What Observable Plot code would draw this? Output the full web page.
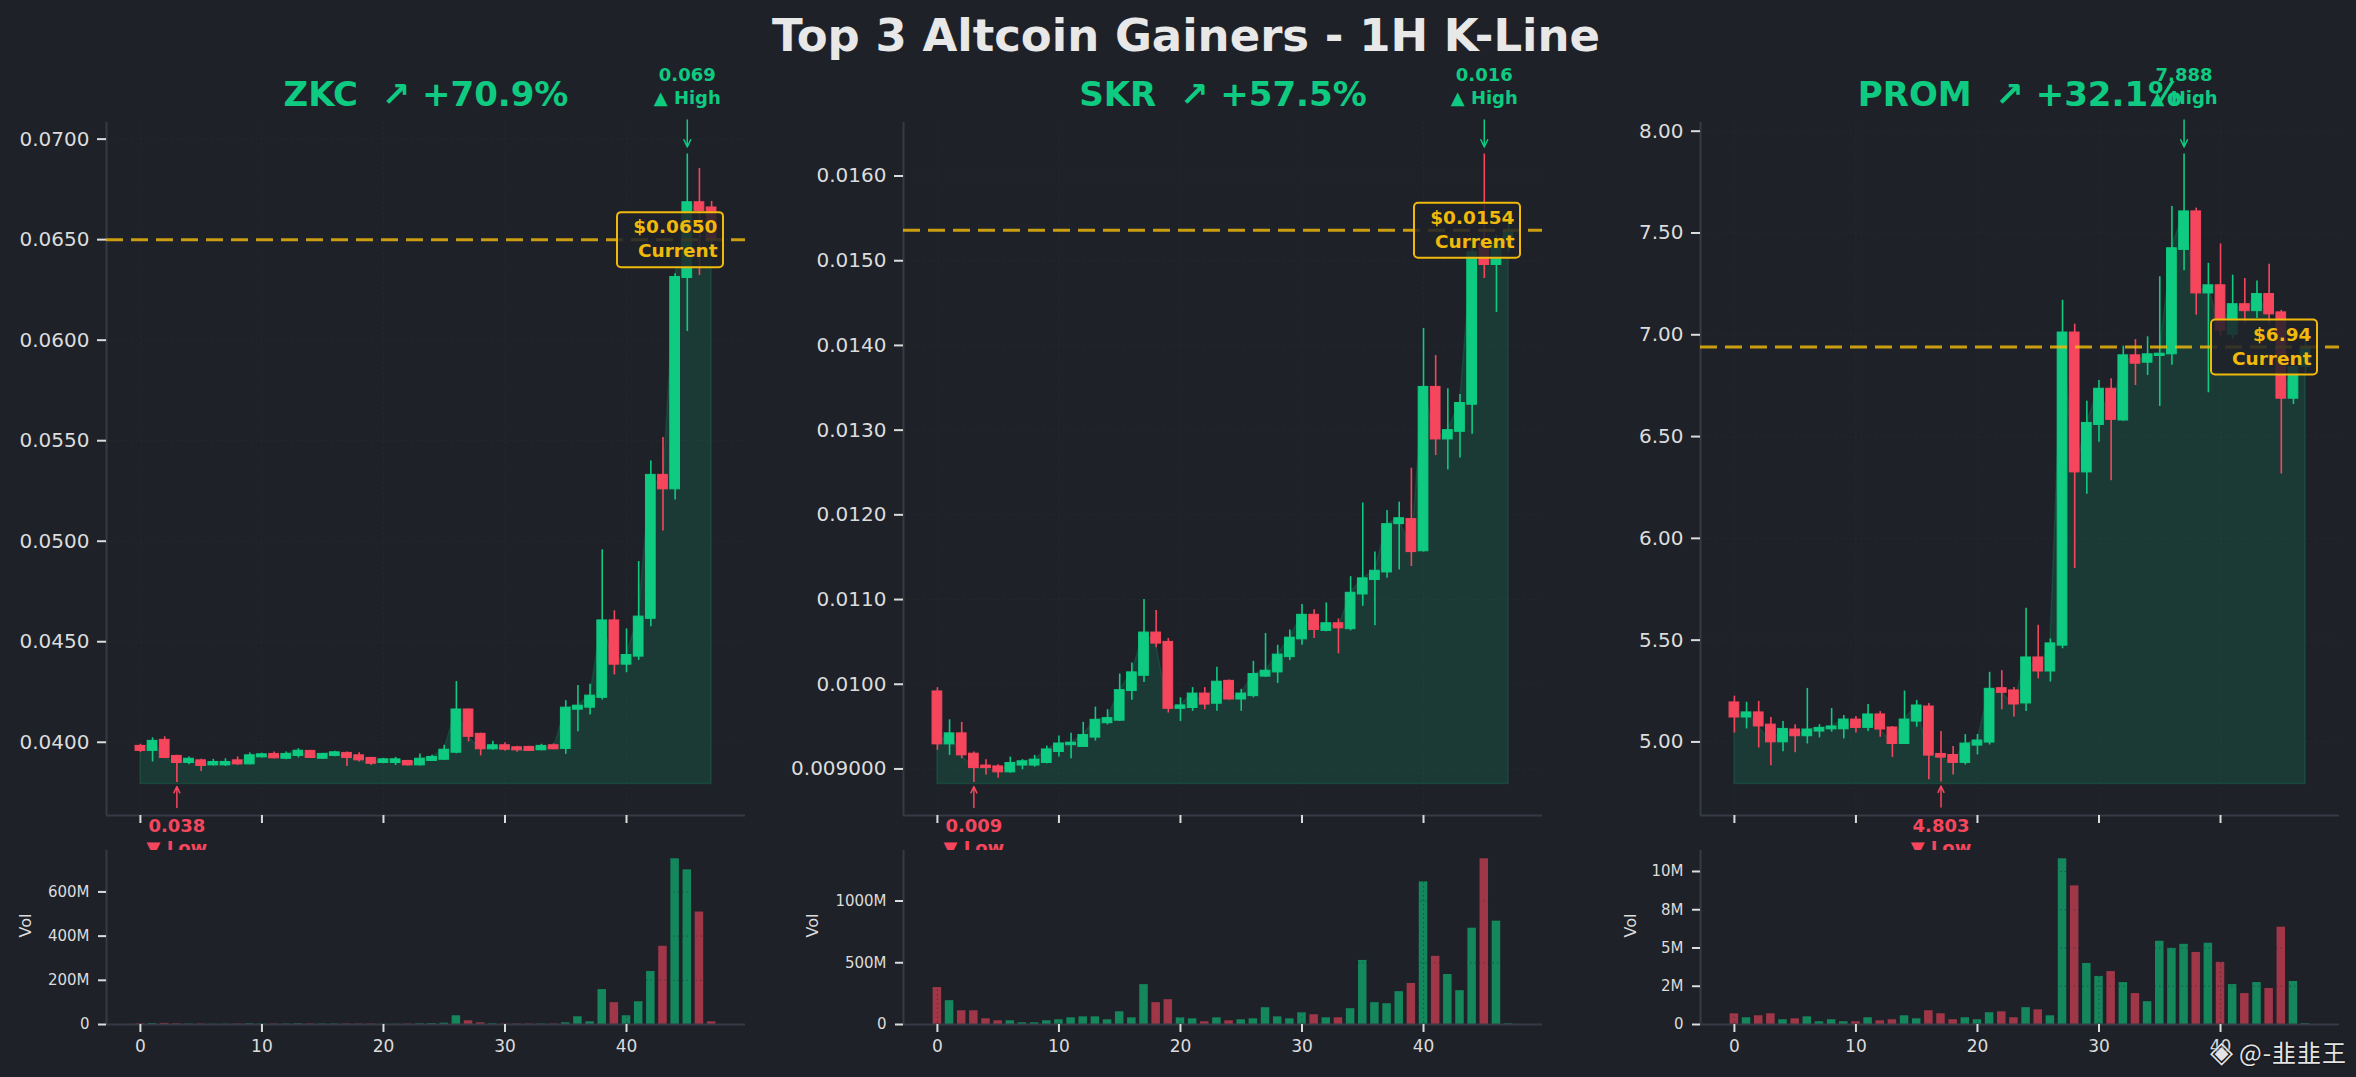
<!DOCTYPE html>
<html>
<head>
<meta charset="utf-8">
<script src="https://cdn.jsdelivr.net/npm/d3@7"></script>
<script src="https://cdn.jsdelivr.net/npm/@observablehq/plot@0.6"></script>
<style>
html, body { margin: 0; padding: 0; background: #1e2128; width: 2356px; height: 1077px; overflow: hidden; font-family: "DejaVu Sans", sans-serif; }
#root { position: relative; width: 2356px; height: 1077px; }
.pane { position: absolute; }
.pane svg { display: block; max-width: none; overflow: hidden; }
#title { position: absolute; left: 8px; top: 8px; width: 2356px; text-align: center; font-size: 45px; line-height: 56px; font-weight: bold; color: #e8e8e8; }
#wm { position: absolute; right: 9px; top: 1034px; height: 36px; display: flex; align-items: center; gap: 6px; color: #e4e4e4; text-shadow: 0 0 2px #000; white-space: nowrap; }
#wmLogo { font-family: "DejaVu Sans", sans-serif; font-size: 30px; line-height: 36px; }
#wmText { font-family: "Noto Sans CJK SC", "DejaVu Sans", sans-serif; font-size: 24px; line-height: 36px; letter-spacing: 1px; }
</style>
</head>
<body>
<div id="root">
  <div id="title">Top 3 Altcoin Gainers - 1H K-Line</div>
  <div id="wm"><span id="wmLogo">◈</span><span id="wmText">@-韭韭王</span></div>
</div>
<script>
// ---------------- data ----------------
const symbols = ["ZKC", "SKR", "PROM"];
const pctLabels = ["+70.9%", "+57.5%", "+32.1%"];
const xTicks = [0, 10, 20, 30, 40];

const zkcOpen  = [0.03982,0.03957,0.04012,0.03932,0.03897,0.03910,0.03885,0.03885,0.03910,0.03890,0.03925,0.03942,0.03918,0.03932,0.03957,0.03918,0.03932,0.03947,0.03935,0.03922,0.03897,0.03897,0.03907,0.03885,0.03907,0.03913,0.03948,0.04163,0.04042,0.03965,0.03985,0.03975,0.03977,0.03960,0.03985,0.03967,0.04162,0.04172,0.04221,0.04606,0.04386,0.04426,0.04614,0.05330,0.05258,0.06309,0.06686,0.06660];
const zkcHigh  = [0.03990,0.04022,0.04027,0.03935,0.03927,0.03915,0.03915,0.03918,0.03927,0.03947,0.03945,0.03952,0.03952,0.03968,0.03960,0.03945,0.03955,0.03952,0.03948,0.03925,0.03920,0.03925,0.03910,0.03942,0.03935,0.03985,0.04302,0.04165,0.04045,0.04005,0.03997,0.03980,0.03980,0.03990,0.03992,0.04207,0.04282,0.04288,0.04957,0.04654,0.04564,0.04899,0.05399,0.05516,0.06330,0.06926,0.06854,0.06690];
const zkcLow   = [0.03950,0.03902,0.03920,0.03800,0.03888,0.03855,0.03882,0.03880,0.03885,0.03888,0.03922,0.03918,0.03913,0.03922,0.03920,0.03915,0.03928,0.03880,0.03902,0.03885,0.03893,0.03885,0.03882,0.03882,0.03905,0.03910,0.03943,0.04002,0.03932,0.03960,0.03955,0.03950,0.03955,0.03958,0.03963,0.03940,0.04052,0.04135,0.04210,0.04335,0.04346,0.04407,0.04574,0.05051,0.05205,0.06043,0.06322,0.06450];
const zkcClose = [0.03957,0.04007,0.03922,0.03897,0.03918,0.03882,0.03902,0.03902,0.03890,0.03935,0.03940,0.03920,0.03942,0.03958,0.03922,0.03942,0.03950,0.03922,0.03910,0.03893,0.03915,0.03915,0.03885,0.03918,0.03927,0.03963,0.04163,0.04027,0.03965,0.03985,0.03963,0.03960,0.03957,0.03982,0.03965,0.04172,0.04182,0.04232,0.04606,0.04386,0.04434,0.04625,0.05330,0.05258,0.06314,0.06686,0.06641,0.06500];
const zkcVol   = [3,4,5,3,2,2,1,1,2,3,2,2,2,3,2,2,2,2,2,2,1,1,2,3,4,6,39.5,16.7,7.6,3,2,2,2,2,2,7.6,35,12,158,98.7,39.5,103,240,354,750,700,509,12];

const skrOpen  = [0.009915,0.00929,0.00942,0.00918,0.00904,0.00903,0.00896,0.00904,0.00904,0.00907,0.00920,0.00928,0.00926,0.00937,0.00954,0.00957,0.00992,0.01010,0.01061,0.01050,0.00971,0.00972,0.00989,0.00977,0.01004,0.00982,0.00986,0.01009,0.01014,0.01032,0.01053,0.01082,0.01063,0.01072,0.01065,0.01106,0.01123,0.01132,0.01189,0.01195,0.01157,0.01351,0.01289,0.01298,0.01330,0.01520,0.01495,0.01520];
const skrHigh  = [0.00996,0.00958,0.00955,0.00920,0.00911,0.00905,0.00914,0.00911,0.00916,0.00927,0.00939,0.00942,0.00955,0.00973,0.00970,0.01012,0.01025,0.01100,0.01087,0.01054,0.00984,0.00996,0.00996,0.01020,0.01005,0.00994,0.01027,0.01060,0.01046,0.01064,0.01094,0.01088,0.01096,0.01077,0.01127,0.01214,0.01156,0.01205,0.01215,0.01255,0.01420,0.01388,0.01349,0.01342,0.01515,0.01626,0.01530,0.01545];
const skrLow   = [0.00922,0.00916,0.00912,0.00884,0.00893,0.00889,0.00895,0.00899,0.00902,0.00906,0.00914,0.00912,0.00926,0.00933,0.00952,0.00956,0.00981,0.01002,0.01043,0.00966,0.00956,0.00968,0.00970,0.00968,0.00981,0.00968,0.00984,0.01008,0.01001,0.01028,0.01046,0.01054,0.01062,0.01036,0.01063,0.01092,0.01069,0.01125,0.01135,0.01139,0.01156,0.01270,0.01253,0.01267,0.01295,0.01479,0.01439,0.01510];
const skrClose = [0.00929,0.00942,0.00916,0.00901,0.00901,0.00896,0.00907,0.00909,0.00911,0.00923,0.00930,0.00931,0.00940,0.00958,0.00960,0.00993,0.01014,0.01061,0.01048,0.00971,0.00975,0.00989,0.00976,0.01003,0.00982,0.00989,0.01012,0.01016,0.01035,0.01055,0.01082,0.01064,0.01072,0.01066,0.01108,0.01125,0.01134,0.01189,0.01196,0.01156,0.01351,0.01289,0.01300,0.01332,0.01510,0.01495,0.01520,0.01536];
const skrVol   = [299,193,111,111,46,30,30,14,14,30,38,54,62,62,38,103,54,323,177,201,54,46,22,54,30,38,46,136,62,46,95,79,54,54,128,519,177,168,266,332,1155,552,405,274,780,1342,837,5];

const promOpen  = [5.194,5.120,5.145,5.085,4.998,5.061,5.028,5.051,5.062,5.062,5.110,5.069,5.135,5.071,4.990,5.100,5.174,4.941,4.936,4.897,4.982,4.997,5.264,5.253,5.189,5.415,5.346,5.473,7.011,6.324,6.557,6.735,6.579,6.899,6.863,6.896,6.904,7.417,7.606,7.203,7.243,7.000,7.150,7.116,7.200,7.110,6.686,6.842];
const promHigh  = [5.225,5.195,5.199,5.120,5.100,5.085,5.263,5.085,5.164,5.130,5.125,5.184,5.149,5.075,5.250,5.204,5.189,5.051,4.977,5.036,5.036,5.342,5.350,5.268,5.657,5.573,5.506,7.170,7.052,6.673,6.776,6.784,6.944,6.976,6.990,7.285,7.630,7.888,7.622,7.351,7.446,7.293,7.277,7.264,7.346,7.120,6.900,6.970];
const promLow   = [5.044,5.064,4.970,4.883,4.952,4.947,4.990,5.020,5.048,5.015,5.044,5.051,5.023,4.924,4.987,5.072,4.814,4.803,4.837,4.887,4.936,4.985,5.158,5.123,5.149,5.310,5.294,5.458,5.852,6.217,6.472,6.283,6.575,6.751,6.800,6.648,6.850,7.315,7.096,6.715,6.990,6.980,7.050,7.080,7.050,6.316,6.658,6.810];
const promClose = [5.120,5.145,5.076,4.998,5.064,5.028,5.061,5.069,5.076,5.110,5.069,5.135,5.061,4.990,5.110,5.179,4.933,4.923,4.897,4.992,5.007,5.261,5.241,5.184,5.415,5.346,5.484,7.011,6.324,6.567,6.735,6.582,6.899,6.858,6.904,6.907,7.425,7.606,7.203,7.243,7.020,7.150,7.116,7.200,7.100,6.686,6.842,6.940];
const promVol   = [0.70,0.44,0.57,0.70,0.31,0.37,0.50,0.18,0.31,0.18,0.18,0.44,0.24,0.31,0.57,0.37,0.90,0.70,0.31,0.44,0.31,0.77,0.83,0.44,1.10,0.96,0.57,10.83,9.06,3.99,3.14,3.46,2.74,2.02,1.49,5.44,4.98,5.24,4.71,5.31,4.06,2.61,2.02,2.74,2.35,6.36,2.81,0.05];

const zkcTicks  = [0.0400,0.0450,0.0500,0.0550,0.0600,0.0650,0.0700];
const skrTicks  = [0.009,0.010,0.011,0.012,0.013,0.014,0.015,0.016];
const promTicks = [5.00,5.50,6.00,6.50,7.00,7.50,8.00];
const zkcVolTicks  = [0,200,400,600];   // millions
const skrVolTicks  = [0,500,1000];
const promVolTicks = [0,2.5,5,7.5,10];

// ---------------- style ----------------
const GREEN = "#0ecb81", RED = "#f6465d", GOLD = "#f0b90b", BG = "#1e2128";
const SPINE = "#363a44", TICK = "#dcdcdc", FONT = "DejaVu Sans";
const X_DOMAIN = [-2.79, 49.79];
const FRAME_LEFTS = [106, 903, 1700], SVG_LEFTS = [0, 770, 1570], FRAME_W = 639;
const VOL_LABEL_DX = [-81, -91, -70];

function roundHalfEven(x) {
  const f = Math.floor(x), r = x - f;
  if (Math.abs(r - 0.5) < 1e-9) return f % 2 === 0 ? f : f + 1;
  return Math.round(x);
}
const fmtVol = v => v === 0 ? "0" : `${roundHalfEven(v)}M`;
const fmt3 = v => v.toFixed(3);
const fmtCur = v => v < 1 ? `$${v.toFixed(4)}` : `$${v.toFixed(2)}`;

const coins = [
  {open: zkcOpen, high: zkcHigh, low: zkcLow, close: zkcClose, vol: zkcVol, ticks: zkcTicks, fmt: v => v.toFixed(4), vticks: zkcVolTicks},
  {open: skrOpen, high: skrHigh, low: skrLow, close: skrClose, vol: skrVol, ticks: skrTicks, fmt: v => v >= 0.00999 ? v.toFixed(4) : v.toFixed(6), vticks: skrVolTicks},
  {open: promOpen, high: promHigh, low: promLow, close: promClose, vol: promVol, ticks: promTicks, fmt: v => v.toFixed(2), vticks: promVolTicks}
];

const root = document.getElementById("root");

coins.forEach((d, k) => {
  const n = d.open.length;
  const rows = d3.range(n).map(i => ({i, o: d.open[i], h: d.high[i], l: d.low[i], c: d.close[i], v: d.vol[i]}));
  rows.forEach(r => r.up = r.c >= r.o);
  const up = rows.filter(r => r.up), dn = rows.filter(r => !r.up);
  const minLow = d3.min(rows, r => r.l), maxHigh = d3.max(rows, r => r.h);
  const lowRow = rows.find(r => r.l === minLow), highRow = rows.find(r => r.h === maxHigh);
  const base = minLow * 0.998;
  const span = maxHigh - base;
  const yDom = [base - 0.05 * span, maxHigh + 0.05 * span];
  const last = rows[n - 1].c;

  const svgLeft = SVG_LEFTS[k];
  const mL = FRAME_LEFTS[k] - svgLeft;
  const svgW = (k < 2 ? SVG_LEFTS[k + 1] : 2356) - svgLeft;
  const mR = svgW - mL - FRAME_W;
  const PH = 850, mT = 122, mB = 35, fH = PH - mT - mB;
  const uy = (yDom[1] - yDom[0]) / fH;            // data units per pixel (y)
  const ux = (X_DOMAIN[1] - X_DOMAIN[0]) / FRAME_W; // data units per pixel (x)

  const price = Plot.plot({
    width: svgW, height: PH,
    marginLeft: mL, marginRight: mR, marginTop: mT, marginBottom: mB,
    x: {domain: X_DOMAIN, axis: null},
    y: {domain: yDom, axis: null},
    style: {background: "transparent", fontFamily: FONT, overflow: "hidden"},
    marks: [
      Plot.gridY({ticks: d.ticks, stroke: "#ffffff", strokeOpacity: 0.035, strokeDasharray: "2,3"}),
      Plot.gridX({ticks: xTicks, stroke: "#ffffff", strokeOpacity: 0.035, strokeDasharray: "2,3"}),
      Plot.areaY(rows, {x: "i", y1: () => base, y2: "c", fill: GREEN, fillOpacity: 0.15, stroke: GREEN, strokeOpacity: 0.16, strokeWidth: 1.5}),
      Plot.ruleX(up, {x: "i", y1: "l", y2: "h", stroke: GREEN, strokeWidth: 1.6}),
      Plot.ruleX(dn, {x: "i", y1: "l", y2: "h", stroke: RED, strokeWidth: 1.6}),
      Plot.rect(up, {x1: r => r.i - 0.4, x2: r => r.i + 0.4, y1: "o", y2: "c", fill: GREEN, stroke: GREEN, strokeWidth: 1}),
      Plot.rect(dn, {x1: r => r.i - 0.4, x2: r => r.i + 0.4, y1: "o", y2: "c", fill: RED, stroke: RED, strokeWidth: 1}),
      Plot.ruleX([X_DOMAIN[0]], {stroke: SPINE, strokeWidth: 2}),
      Plot.ruleY([yDom[0]], {stroke: SPINE, strokeWidth: 2}),
      Plot.axisY({ticks: d.ticks, tickFormat: d.fmt, tickSize: 9, tickPadding: 8, fontSize: 20, color: TICK, strokeWidth: 2, label: null}),
      Plot.axisX({ticks: xTicks, tickFormat: () => "", tickSize: 8, color: TICK, strokeWidth: 2, label: null}),
      // current price
      Plot.ruleY([last], {stroke: GOLD, strokeOpacity: 0.82, strokeWidth: 3, strokeDasharray: "17,8"}),
      Plot.rect([last], {x1: () => X_DOMAIN[1] - 128 * ux, x2: () => X_DOMAIN[1] - 22 * ux, y1: v => v - 28 * uy, y2: v => v + 27 * uy,
        fill: BG, fillOpacity: 0.85, stroke: GOLD, strokeWidth: 2, rx: 4}),
      Plot.text([last], {y: v => v, frameAnchor: "right", dx: -28, dy: -2, text: v => `${fmtCur(v)}\nCurrent`,
        textAnchor: "end", lineAnchor: "middle", lineHeight: 1.3, fontSize: 18.5, fontWeight: "bold", fill: GOLD}),
      // high
      Plot.arrow([highRow], {x1: "i", x2: "i", y1: r => r.h + 34 * uy, y2: r => r.h + 7 * uy, stroke: GREEN, strokeWidth: 1.5, headLength: 8, headAngle: 50}),
      Plot.text([highRow], {x: "i", y: "h", text: r => fmt3(r.h), dy: -79, fill: GREEN, fontSize: 18, fontWeight: "bold", lineAnchor: "middle"}),
      Plot.text([highRow], {x: "i", y: "h", text: () => "▲ High", dy: -56, fill: GREEN, fontSize: 18, fontWeight: "bold", lineAnchor: "middle"}),
      // low
      Plot.arrow([lowRow], {x1: "i", x2: "i", y1: r => r.l - 25 * uy, y2: r => r.l - 4 * uy, stroke: RED, strokeWidth: 1.5, headLength: 8, headAngle: 50}),
      Plot.text([lowRow], {x: "i", y: "l", text: r => fmt3(r.l), dy: 44, fill: RED, fontSize: 18, fontWeight: "bold", lineAnchor: "middle"}),
      Plot.text([lowRow], {x: "i", y: "l", text: () => "▼ Low", dy: 66, fill: RED, fontSize: 18, fontWeight: "bold", lineAnchor: "middle"}),
      // panel title
      Plot.text([`${symbols[k]}  ↗ ${pctLabels[k]}`], {text: t => t, frameAnchor: "top", dy: -27, lineAnchor: "middle",
        fontSize: 34, fontWeight: "bold", fill: GREEN})
    ]
  });

  const vMax = d3.max(rows, r => r.v);
  const VH = 227;
  const vol = Plot.plot({
    width: svgW, height: VH,
    marginLeft: mL, marginRight: mR, marginTop: 0, marginBottom: 53,
    x: {domain: X_DOMAIN, axis: null},
    y: {domain: [0, vMax * 1.05], axis: null},
    style: {background: "transparent", fontFamily: FONT, overflow: "hidden"},
    marks: [
      Plot.rect(up, {x1: r => r.i - 0.35, x2: r => r.i + 0.35, y1: () => 0, y2: "v", fill: GREEN, fillOpacity: 0.6}),
      Plot.rect(dn, {x1: r => r.i - 0.35, x2: r => r.i + 0.35, y1: () => 0, y2: "v", fill: RED, fillOpacity: 0.6}),
      Plot.gridY({ticks: d.vticks.filter(t => t > 0), stroke: BG, strokeOpacity: 0.45, strokeDasharray: "1.5,3"}),
      Plot.gridX({ticks: xTicks, stroke: BG, strokeOpacity: 0.45, strokeDasharray: "1.5,3"}),
      Plot.ruleX([X_DOMAIN[0]], {stroke: SPINE, strokeWidth: 2}),
      Plot.ruleY([0], {stroke: SPINE, strokeWidth: 2}),
      Plot.axisY({ticks: d.vticks, tickFormat: fmtVol, tickSize: 8, tickPadding: 9, fontSize: 15, color: TICK, strokeWidth: 2, label: null}),
      Plot.axisX({ticks: xTicks, tickFormat: v => String(v), tickSize: 8, tickPadding: 7, fontSize: 17, color: TICK, strokeWidth: 2, label: null}),
      Plot.text(["Vol"], {text: t => t, frameAnchor: "left", dx: VOL_LABEL_DX[k], rotate: -90, fontSize: 16, fill: TICK})
    ]
  });

  const pDiv = document.createElement("div");
  pDiv.className = "pane";
  pDiv.style.left = svgLeft + "px"; pDiv.style.top = "0px"; pDiv.style.width = svgW + "px"; pDiv.style.height = PH + "px";
  pDiv.appendChild(price);
  root.appendChild(pDiv);

  const vDiv = document.createElement("div");
  vDiv.className = "pane";
  vDiv.style.left = svgLeft + "px"; vDiv.style.top = PH + "px"; vDiv.style.width = svgW + "px"; vDiv.style.height = VH + "px";
  vDiv.appendChild(vol);
  root.appendChild(vDiv);
});
// keep the title and watermark above the panes
root.appendChild(document.getElementById("title"));
root.appendChild(document.getElementById("wm"));
</script>
</body>
</html>
